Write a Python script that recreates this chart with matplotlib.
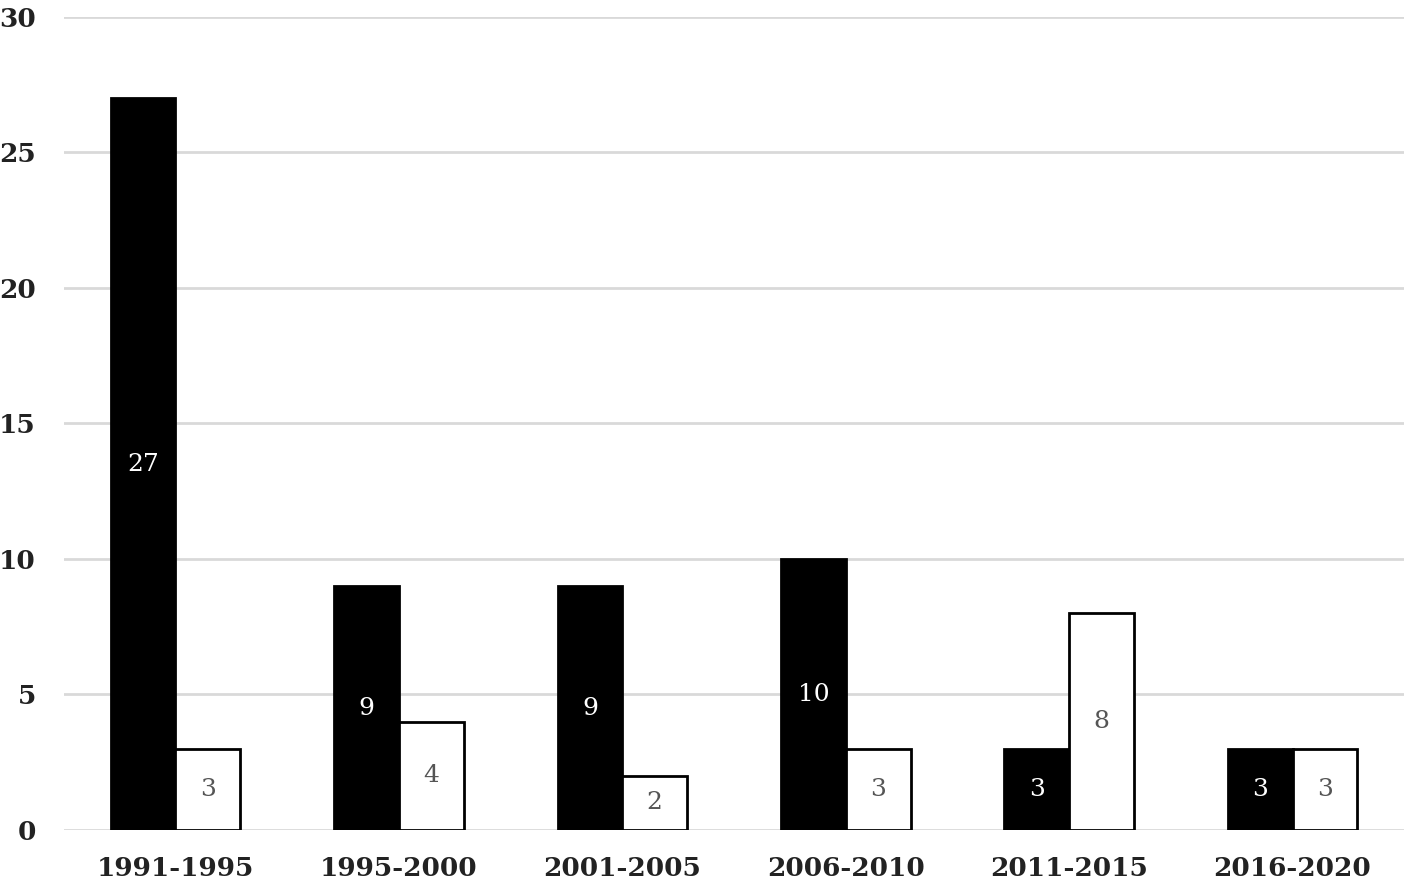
import numpy as np
import matplotlib.pyplot as plt

periods = ['1991-1995', '1995-2000', '2001-2005', '2006-2010', '2011-2015', '2016-2020']
black_vals = [27, 9, 9, 10, 3, 3]
white_vals = [3, 4, 2, 3, 8, 3]

plt.rcParams['font.family'] = 'DejaVu Serif'

fig = plt.figure(figsize=(14.17, 8.9), dpi=100)
ax = fig.add_axes([0.045, 0.0674, 0.946, 0.9136])

x = np.arange(len(periods))
w = 0.29
b1 = ax.bar(x - w / 2, black_vals, w, color='black', edgecolor='black', linewidth=2, zorder=3)
b2 = ax.bar(x + w / 2, white_vals, w, color='white', edgecolor='black', linewidth=2, zorder=3)

for rect, v in zip(b1, black_vals):
    ax.text(rect.get_x() + rect.get_width() / 2, v / 2, str(v), ha='center', va='center',
            color='white', fontsize=18, zorder=4)
for rect, v in zip(b2, white_vals):
    ax.text(rect.get_x() + rect.get_width() / 2, v / 2, str(v), ha='center', va='center',
            color='#555555', fontsize=18, zorder=4)

ax.set_xlim(-0.5, len(periods) - 0.5)
ax.set_ylim(0, 30)
ax.set_yticks(range(0, 31, 5))
ax.set_xticks(x)
ax.set_xticklabels(periods)
ax.yaxis.grid(True, color='#d9d9d9', linewidth=2, zorder=0)
ax.set_axisbelow(True)
for s in ax.spines.values():
    s.set_visible(False)
ax.tick_params(length=0, labelsize=19, labelcolor='#222222', width=0)
ax.tick_params(axis='y', pad=20)
ax.tick_params(axis='x', pad=19)
for lab in ax.get_xticklabels() + ax.get_yticklabels():
    lab.set_fontweight('bold')

fig.savefig('out.png', dpi=100, facecolor='white')
